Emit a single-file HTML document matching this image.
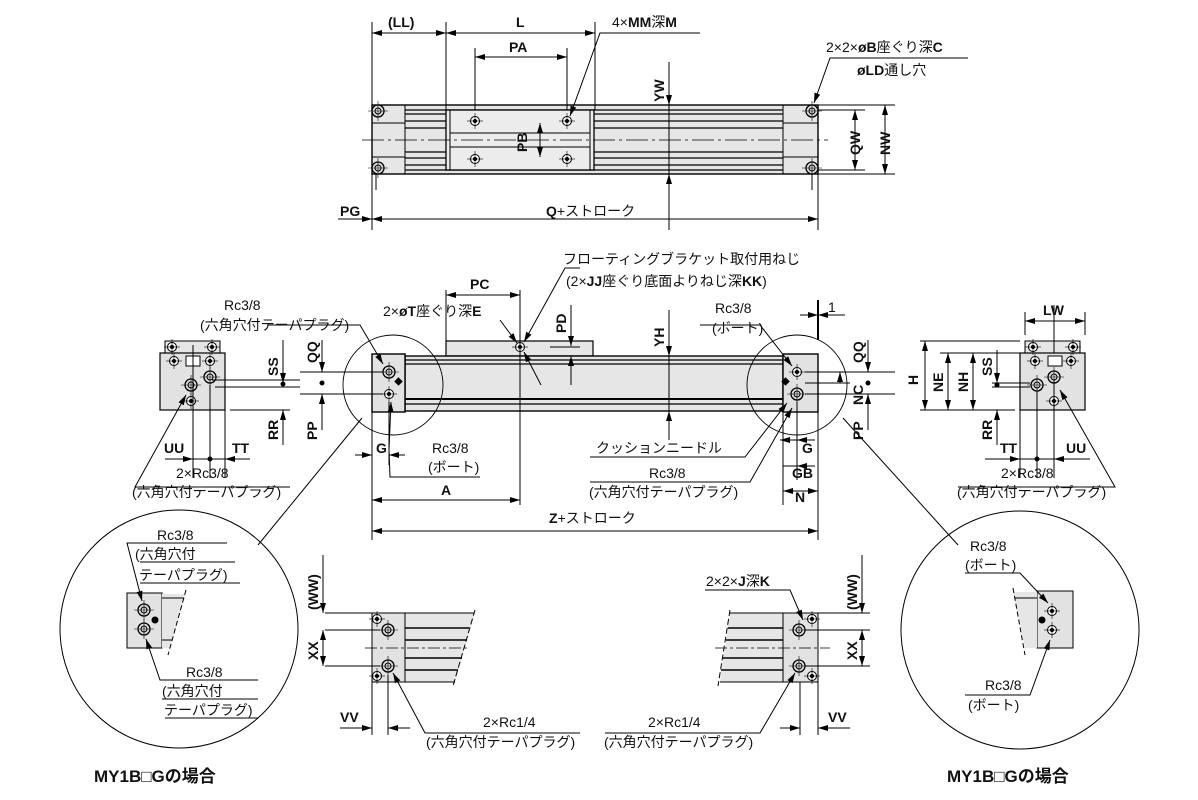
<!DOCTYPE html>
<html><head><meta charset="utf-8"><style>
html,body{margin:0;padding:0;background:#fff}
svg{display:block}
text{font-family:"Liberation Sans","Noto Sans CJK JP",sans-serif;font-size:14px;fill:#111}
.b{font-weight:bold}
.big{font-size:17px;font-weight:bold}
</style></head><body>
<svg width="1198" height="800" viewBox="0 0 1198 800" xmlns="http://www.w3.org/2000/svg">
<defs>
<marker id="a" viewBox="0 0 10 6" refX="10" refY="3" markerWidth="12" markerHeight="6" orient="auto-start-reverse" markerUnits="userSpaceOnUse"><path d="M0,0L10,3L0,6z" fill="#000"/></marker>
<g id="hole"><circle r="4.5" fill="#fff" stroke="#000" stroke-width="1"/><line x1="-8" x2="8" stroke="#000" stroke-width=".6"/><line y1="-8" y2="8" stroke="#000" stroke-width=".6"/><circle r="1.5" fill="#000"/></g>
<g id="port"><circle r="6" fill="#ddd" stroke="#000" stroke-width="1.3"/><circle r="3" fill="none" stroke="#000" stroke-width="1"/><line x1="-10" x2="10" stroke="#000" stroke-width=".6"/><line y1="-10" y2="10" stroke="#000" stroke-width=".6"/></g>
</defs>
<g stroke="#000" stroke-width="1" fill="none">
<rect x="372" y="105" width="446" height="69" fill="#e6e6e6" stroke-width="1.4"/>
<line x1="405" y1="105" x2="405" y2="174"/><line x1="783" y1="105" x2="783" y2="174"/>
<g stroke-width="1.2"><line x1="405" y1="110" x2="783" y2="110"/><line x1="405" y1="114" x2="783" y2="114"/><line x1="405" y1="121" x2="783" y2="121"/><line x1="405" y1="128" x2="783" y2="128"/><line x1="405" y1="152" x2="783" y2="152"/><line x1="405" y1="158" x2="783" y2="158"/><line x1="405" y1="165" x2="783" y2="165"/><line x1="405" y1="170" x2="783" y2="170"/></g>
<line x1="372" y1="123" x2="405" y2="123"/><line x1="372" y1="157" x2="405" y2="157"/><line x1="783" y1="123" x2="818" y2="123"/><line x1="783" y1="157" x2="818" y2="157"/>
<rect x="446" y="110" width="148" height="60" fill="#ececec" stroke-width="1.3"/>
<line x1="450" y1="110" x2="450" y2="170"/><line x1="590" y1="110" x2="590" y2="170"/>
<line x1="450" y1="133" x2="590" y2="133"/><line x1="450" y1="147" x2="590" y2="147"/>
<line x1="362" y1="140" x2="828" y2="140" stroke-dasharray="22,4,3,4" stroke-width=".8"/>
<use href="#hole" x="475" y="121"/><use href="#hole" x="567" y="121"/><use href="#hole" x="475" y="159"/><use href="#hole" x="567" y="159"/>
<use href="#port" x="378" y="111"/><use href="#port" x="378" y="168"/><use href="#port" x="812" y="111"/><use href="#port" x="812" y="168"/>
<line x1="372" y1="22" x2="372" y2="105"/><line x1="446" y1="22" x2="446" y2="110"/><line x1="595" y1="22" x2="595" y2="110"/>
<line x1="475" y1="48" x2="475" y2="110"/><line x1="567" y1="48" x2="567" y2="110"/>
<line x1="372" y1="33" x2="446" y2="33" marker-start="url(#a)" marker-end="url(#a)"/>
<line x1="446" y1="33" x2="595" y2="33" marker-start="url(#a)" marker-end="url(#a)"/>
<line x1="475" y1="57" x2="567" y2="57" marker-start="url(#a)" marker-end="url(#a)"/>
<polyline points="700,33 600,33 570,116" marker-end="url(#a)"/>
<line x1="540" y1="123" x2="540" y2="157" marker-start="url(#a)" marker-end="url(#a)"/>
<line x1="669" y1="62" x2="669" y2="105" marker-end="url(#a)"/><line x1="669" y1="105" x2="669" y2="215"/><line x1="669" y1="230" x2="669" y2="174" marker-end="url(#a)"/>
<line x1="372" y1="174" x2="372" y2="230"/><line x1="376" y1="174" x2="376" y2="190"/><line x1="818" y1="174" x2="818" y2="230"/><line x1="812" y1="174" x2="812" y2="190"/>
<line x1="372" y1="219" x2="818" y2="219" marker-start="url(#a)" marker-end="url(#a)"/>
<line x1="338" y1="219" x2="372" y2="219" marker-end="url(#a)"/>
<line x1="818" y1="110" x2="865" y2="110"/><line x1="818" y1="170" x2="865" y2="170"/><line x1="818" y1="105" x2="895" y2="105"/><line x1="818" y1="174" x2="895" y2="174"/>
<line x1="855" y1="110" x2="855" y2="170" marker-start="url(#a)" marker-end="url(#a)"/>
<line x1="885" y1="105" x2="885" y2="174" marker-start="url(#a)" marker-end="url(#a)"/>
<polyline points="968,58 830,58 814,103" marker-end="url(#a)"/>

<rect x="446" y="341" width="147" height="15" fill="#e6e6e6" stroke-width="1.2"/>
<rect x="405" y="356" width="378" height="55" fill="#e6e6e6" stroke-width="1.4"/>
<g stroke-width="1.2"><line x1="405" y1="360" x2="783" y2="360"/><line x1="405" y1="364" x2="783" y2="364"/><line x1="405" y1="399" x2="783" y2="399" stroke-width="2"/><line x1="405" y1="404" x2="783" y2="404"/></g>
<rect x="372" y="354" width="33" height="58" fill="#e2e2e2" stroke-width="1.4"/>
<rect x="783" y="354" width="35" height="58" fill="#e2e2e2" stroke-width="1.4"/>
<circle cx="393" cy="385" r="50" stroke-width=".9"/><circle cx="797" cy="385" r="50" stroke-width=".9"/>
<use href="#port" x="389" y="372"/><use href="#hole" x="389" y="394"/><use href="#hole" x="797" y="372"/><use href="#port" x="797" y="394"/>
<rect x="396" y="379" width="5" height="5" fill="#000" transform="rotate(45 398.5 381.5)"/>
<rect x="783" y="379" width="5" height="5" fill="#000" transform="rotate(45 785.5 381.5)"/>
<use href="#hole" x="520" y="347"/>
<line x1="520" y1="290" x2="520" y2="505"/><line x1="446" y1="290" x2="446" y2="341"/>
<line x1="446" y1="295" x2="520" y2="295" marker-start="url(#a)" marker-end="url(#a)"/>
<polyline points="580,268 565,268 524,342" marker-end="url(#a)"/>
<line x1="500" y1="320" x2="517" y2="343" marker-end="url(#a)"/>
<line x1="541" y1="385" x2="524" y2="352" marker-end="url(#a)"/>
<line x1="571" y1="305" x2="571" y2="346" marker-end="url(#a)"/><line x1="571" y1="385" x2="571" y2="356" marker-end="url(#a)"/><line x1="550" y1="347" x2="580" y2="347"/>
<line x1="669" y1="310" x2="669" y2="356" marker-end="url(#a)"/><line x1="669" y1="356" x2="669" y2="430"/><line x1="669" y1="440" x2="669" y2="411" marker-end="url(#a)"/>
<polyline points="268,325 360,325 383,364" marker-end="url(#a)"/>
<line x1="389" y1="450" x2="391" y2="402" marker-end="url(#a)"/><polyline points="389,450 390,477 480,477"/>
<line x1="372" y1="412" x2="372" y2="540"/><line x1="389" y1="402" x2="389" y2="465"/>
<line x1="355" y1="455" x2="372" y2="455" marker-end="url(#a)"/><line x1="405" y1="455" x2="389" y2="455" marker-end="url(#a)"/>
<line x1="372" y1="500" x2="520" y2="500" marker-start="url(#a)" marker-end="url(#a)"/>
<line x1="818" y1="412" x2="818" y2="540"/>
<line x1="372" y1="531" x2="818" y2="531" marker-start="url(#a)" marker-end="url(#a)"/>
<line x1="300" y1="372" x2="383" y2="372"/><line x1="300" y1="394" x2="383" y2="394"/>
<line x1="322" y1="340" x2="322" y2="372" marker-end="url(#a)"/><line x1="322" y1="430" x2="322" y2="394" marker-end="url(#a)"/>
<circle cx="322" cy="383" r="2" fill="#000"/>
<polyline points="700,325 760,325 792,366" marker-end="url(#a)"/>
<line x1="818" y1="300" x2="818" y2="340" stroke-width="2"/>
<line x1="800" y1="315" x2="818" y2="315" marker-end="url(#a)"/><line x1="845" y1="315" x2="818" y2="315" marker-end="url(#a)"/>
<line x1="783" y1="412" x2="783" y2="505"/><line x1="797" y1="402" x2="797" y2="480"/>
<line x1="780" y1="440" x2="797" y2="440" marker-start="url(#a)"/><line x1="815" y1="440" x2="797" y2="440" marker-end="url(#a)"/>
<line x1="783" y1="466" x2="797" y2="466"/><line x1="815" y1="466" x2="797" y2="466" marker-end="url(#a)"/>
<line x1="783" y1="491" x2="818" y2="491" marker-start="url(#a)" marker-end="url(#a)"/>
<polyline points="590,457 745,457 787,403" marker-end="url(#a)"/>
<polyline points="590,482 750,482 792,408" marker-end="url(#a)"/>
<line x1="805" y1="372" x2="895" y2="372"/><line x1="805" y1="394" x2="895" y2="394"/><line x1="805" y1="383" x2="850" y2="383"/>
<line x1="868" y1="340" x2="868" y2="372" marker-end="url(#a)"/><line x1="868" y1="430" x2="868" y2="394" marker-end="url(#a)"/><circle cx="868" cy="383" r="2" fill="#000"/>
<line x1="840" y1="372" x2="840" y2="383" marker-start="url(#a)"/>
<rect x="165" y="341" width="55" height="12" fill="#e6e6e6"/>
<rect x="160" y="353" width="65" height="57" fill="#e2e2e2" stroke-width="1.2"/>
<use href="#hole" x="172" y="347"/><use href="#hole" x="212" y="347"/><use href="#hole" x="174" y="361"/><use href="#hole" x="210" y="361"/>
<rect x="186" y="356" width="14" height="10" fill="#fff"/>
<use href="#port" x="210" y="377"/><use href="#port" x="191" y="385"/><use href="#hole" x="191" y="401"/>
<line x1="193" y1="345" x2="193" y2="478"/><line x1="210" y1="385" x2="210" y2="478"/><line x1="225" y1="410" x2="225" y2="478"/>
<line x1="212" y1="380" x2="300" y2="380"/><line x1="215" y1="387" x2="300" y2="387"/><line x1="230" y1="410" x2="290" y2="410"/>
<line x1="283" y1="340" x2="283" y2="383" marker-end="url(#a)"/><line x1="283" y1="445" x2="283" y2="410" marker-end="url(#a)"/><circle cx="283" cy="384" r="2" fill="#000"/>
<line x1="165" y1="459" x2="193" y2="459" marker-end="url(#a)"/><line x1="193" y1="459" x2="225" y2="459"/><line x1="250" y1="459" x2="225" y2="459" marker-end="url(#a)"/><circle cx="210" cy="459" r="2" fill="#000"/>
<polyline points="290,487 135,487 186,395" marker-end="url(#a)"/>
<rect x="1025" y="341" width="55" height="12" fill="#e6e6e6"/>
<rect x="1020" y="353" width="65" height="57" fill="#e2e2e2" stroke-width="1.2"/>
<use href="#hole" x="1033" y="347"/><use href="#hole" x="1073" y="347"/><use href="#hole" x="1035" y="361"/><use href="#hole" x="1071" y="361"/>
<rect x="1048" y="356" width="14" height="10" fill="#fff"/>
<use href="#port" x="1054" y="377"/><use href="#port" x="1037" y="385"/><use href="#hole" x="1054" y="401"/>
<line x1="1037" y1="392" x2="1037" y2="478"/><line x1="1054" y1="380" x2="1054" y2="478"/><line x1="1020" y1="410" x2="1020" y2="478"/><line x1="1054" y1="305" x2="1054" y2="353"/>
<line x1="1025" y1="312" x2="1025" y2="335"/><line x1="1085" y1="312" x2="1085" y2="335"/>
<line x1="1025" y1="321" x2="1085" y2="321" marker-start="url(#a)" marker-end="url(#a)"/>
<line x1="920" y1="341" x2="1020" y2="341"/><line x1="940" y1="353" x2="1020" y2="353"/><line x1="920" y1="410" x2="1015" y2="410"/>
<line x1="925" y1="341" x2="925" y2="410" marker-start="url(#a)" marker-end="url(#a)"/>
<line x1="948" y1="353" x2="948" y2="410" marker-start="url(#a)" marker-end="url(#a)"/>
<line x1="973" y1="353" x2="973" y2="410" marker-start="url(#a)" marker-end="url(#a)"/>
<line x1="992" y1="383" x2="1030" y2="383"/><line x1="992" y1="387" x2="1030" y2="387"/>
<line x1="997" y1="350" x2="997" y2="383" marker-end="url(#a)"/><line x1="997" y1="445" x2="997" y2="410" marker-end="url(#a)"/><circle cx="997" cy="385" r="2" fill="#000"/>
<line x1="985" y1="459" x2="1020" y2="459" marker-end="url(#a)"/><line x1="1020" y1="459" x2="1054" y2="459"/><line x1="1090" y1="459" x2="1054" y2="459" marker-end="url(#a)"/><circle cx="1037" cy="459" r="2" fill="#000"/>
<polyline points="958,487 1115,487 1060,390" marker-end="url(#a)"/>
<line x1="362" y1="418" x2="258" y2="545"/><line x1="843" y1="418" x2="958" y2="545"/>
<circle cx="179" cy="629" r="119" stroke-width="1"/>
<rect x="127" y="593" width="35" height="55" fill="#e2e2e2"/>
<polygon points="162,594 186,594 170,648 162,648" fill="#e6e6e6" stroke="none"/>
<line x1="162" y1="598" x2="184" y2="598"/><line x1="162" y1="640" x2="172" y2="640"/>
<line x1="186" y1="590" x2="168" y2="655" stroke-dasharray="5,3"/>
<use href="#port" x="144" y="610"/><use href="#port" x="144" y="629"/>
<circle cx="155" cy="620" r="3" fill="#000"/>
<polyline points="227,543 127,543 142,601" marker-end="url(#a)"/>
<line x1="140" y1="562" x2="235" y2="562"/><line x1="140" y1="583" x2="240" y2="583"/>
<polyline points="258,680 160,680 146,639" marker-end="url(#a)"/>
<line x1="162" y1="699" x2="258" y2="699"/><line x1="165" y1="718" x2="258" y2="718"/>
<circle cx="1020" cy="630" r="119" stroke-width="1"/>
<rect x="1037" y="591" width="36" height="57" fill="#e2e2e2"/>
<polygon points="1013,592 1037,592 1037,648 1025,648" fill="#e6e6e6" stroke="none"/>
<line x1="1015" y1="598" x2="1037" y2="598"/><line x1="1013" y1="588" x2="1025" y2="655" stroke-dasharray="5,3"/>
<use href="#hole" x="1052" y="611"/><use href="#hole" x="1052" y="630"/><circle cx="1042" cy="620" r="3" fill="#000"/>
<polyline points="965,573 1020,573 1048,603" marker-end="url(#a)"/>
<polyline points="965,695 1030,695 1050,640" marker-end="url(#a)"/>
<polygon points="405,613 475,613 455,682 405,682" fill="#e6e6e6" stroke="none"/>
<line x1="475" y1="610" x2="453" y2="686" stroke-dasharray="6,3"/>
<line x1="405" y1="613" x2="474" y2="613"/><g stroke-width="1.6"><line x1="405" y1="628" x2="469" y2="628"/><line x1="405" y1="640" x2="467" y2="640"/><line x1="405" y1="658" x2="462" y2="658"/><line x1="405" y1="670" x2="458" y2="670"/></g>
<line x1="405" y1="682" x2="455" y2="682"/>
<rect x="372" y="613" width="33" height="69" fill="#e2e2e2"/>
<line x1="365" y1="648" x2="470" y2="648" stroke-dasharray="12,3,3,3" stroke-width=".8"/>
<use href="#hole" x="377" y="619"/><use href="#hole" x="377" y="676"/><use href="#port" x="388" y="630"/><use href="#port" x="388" y="666"/>
<line x1="325" y1="613" x2="372" y2="613"/><line x1="325" y1="630" x2="380" y2="630"/><line x1="325" y1="666" x2="380" y2="666"/>
<line x1="323" y1="555" x2="323" y2="613" marker-end="url(#a)"/>
<line x1="323" y1="630" x2="323" y2="666" marker-start="url(#a)" marker-end="url(#a)"/>
<line x1="372" y1="682" x2="372" y2="735"/><line x1="388" y1="675" x2="388" y2="735"/>
<line x1="340" y1="728" x2="372" y2="728" marker-end="url(#a)"/><line x1="410" y1="728" x2="388" y2="728" marker-end="url(#a)"/>
<polyline points="580,733 425,733 393,673" marker-end="url(#a)"/>
<polygon points="730,613 783,613 783,682 720,682" fill="#e6e6e6" stroke="none"/>
<line x1="730" y1="610" x2="718" y2="686" stroke-dasharray="6,3"/>
<line x1="730" y1="613" x2="783" y2="613"/><g stroke-width="1.6"><line x1="728" y1="628" x2="783" y2="628"/><line x1="726" y1="640" x2="783" y2="640"/><line x1="723" y1="658" x2="783" y2="658"/><line x1="721" y1="670" x2="783" y2="670"/></g>
<line x1="720" y1="682" x2="783" y2="682"/>
<rect x="783" y="613" width="35" height="69" fill="#e2e2e2"/>
<line x1="715" y1="648" x2="830" y2="648" stroke-dasharray="12,3,3,3" stroke-width=".8"/>
<use href="#hole" x="812" y="619"/><use href="#hole" x="812" y="676"/><use href="#port" x="799" y="630"/><use href="#port" x="799" y="666"/>
<line x1="818" y1="613" x2="870" y2="613"/><line x1="805" y1="630" x2="870" y2="630"/><line x1="805" y1="666" x2="870" y2="666"/>
<line x1="862" y1="555" x2="862" y2="613" marker-end="url(#a)"/>
<line x1="862" y1="630" x2="862" y2="666" marker-start="url(#a)" marker-end="url(#a)"/>
<line x1="800" y1="682" x2="800" y2="735"/><line x1="818" y1="682" x2="818" y2="735"/>
<line x1="780" y1="728" x2="800" y2="728" marker-end="url(#a)"/><line x1="850" y1="728" x2="818" y2="728" marker-end="url(#a)"/>
<polyline points="605,733 760,733 795,673" marker-end="url(#a)"/>
<polyline points="705,590 790,590 803,620" marker-end="url(#a)"/>
</g>

<text x="388" y="27" class="b">(LL)</text>
<text x="516" y="27" class="b">L</text>
<text x="509" y="52" class="b">PA</text>
<text x="612" y="27">4×<tspan class="b">MM</tspan>深<tspan class="b">M</tspan></text>
<text class="b" transform="translate(664,102) rotate(-90)">YW</text>
<text class="b" transform="translate(527,152) rotate(-90)">PB</text>
<text x="340" y="216" class="b">PG</text>
<text x="546" y="216"><tspan class="b">Q</tspan>+ストローク</text>
<text class="b" transform="translate(860,155) rotate(-90)">QW</text>
<text class="b" transform="translate(890,155) rotate(-90)">NW</text>
<text x="826" y="52">2×2×<tspan class="b">øB</tspan>座ぐり深<tspan class="b">C</tspan></text>
<text x="857" y="75"><tspan class="b">øLD</tspan>通し穴</text>
<text x="563" y="264">フローティングブラケット取付用ねじ</text>
<text x="566" y="286">(2×<tspan class="b">JJ</tspan>座ぐり底面よりねじ深<tspan class="b">KK</tspan>)</text>
<text x="470" y="289" class="b">PC</text>
<text x="383" y="316">2×<tspan class="b">øT</tspan>座ぐり深<tspan class="b">E</tspan></text>
<text class="b" transform="translate(566,333) rotate(-90)">PD</text>
<text class="b" transform="translate(664,347) rotate(-90)">YH</text>
<text x="224" y="310">Rc3/8</text>
<text x="200" y="330">(六角穴付テーパプラグ)</text>
<text x="715" y="313">Rc3/8</text>
<text x="712" y="333">(ボート)</text>
<text x="828" y="312">1</text>
<text class="b" transform="translate(317,363) rotate(-90)">QQ</text>
<text class="b" transform="translate(317,440) rotate(-90)">PP</text>
<text class="b" transform="translate(278,376) rotate(-90)">SS</text>
<text class="b" transform="translate(278,440) rotate(-90)">RR</text>
<text x="164" y="453" class="b">UU</text>
<text x="232" y="453" class="b">TT</text>
<text x="176" y="478">2×Rc3/8</text>
<text x="132" y="497">(六角穴付テーパプラグ)</text>
<text x="376" y="453" class="b">G</text>
<text x="432" y="453">Rc3/8</text>
<text x="428" y="472">(ボート)</text>
<text x="441" y="495" class="b">A</text>
<text x="549" y="523"><tspan class="b">Z</tspan>+ストローク</text>
<text x="596" y="453">クッションニードル</text>
<text x="649" y="478">Rc3/8</text>
<text x="589" y="497">(六角穴付テーパプラグ)</text>
<text x="802" y="453" class="b">G</text>
<text x="792" y="478" class="b">GB</text>
<text x="795" y="502" class="b">N</text>
<text class="b" transform="translate(863,363) rotate(-90)">QQ</text>
<text class="b" transform="translate(863,405) rotate(-90)">NC</text>
<text class="b" transform="translate(863,440) rotate(-90)">PP</text>
<text class="b" transform="translate(918,385) rotate(-90)">H</text>
<text class="b" transform="translate(943,392) rotate(-90)">NE</text>
<text class="b" transform="translate(968,392) rotate(-90)">NH</text>
<text class="b" transform="translate(992,376) rotate(-90)">SS</text>
<text class="b" transform="translate(992,440) rotate(-90)">RR</text>
<text x="1043" y="315" class="b">LW</text>
<text x="1000" y="453" class="b">TT</text>
<text x="1066" y="453" class="b">UU</text>
<text x="1001" y="478">2×Rc3/8</text>
<text x="957" y="497">(六角穴付テーパプラグ)</text>
<text x="157" y="540">Rc3/8</text>
<text x="135" y="559">(六角穴付</text>
<text x="139" y="580">テーパプラグ)</text>
<text x="186" y="677">Rc3/8</text>
<text x="162" y="696">(六角穴付</text>
<text x="164" y="715">テーパプラグ)</text>
<text x="970" y="551">Rc3/8</text>
<text x="965" y="570">(ボート)</text>
<text x="985" y="690">Rc3/8</text>
<text x="968" y="710">(ボート)</text>
<text class="b" transform="translate(318,610) rotate(-90)">(WW)</text>
<text class="b" transform="translate(318,660) rotate(-90)">XX</text>
<text x="340" y="722" class="b">VV</text>
<text x="483" y="727">2×Rc1/4</text>
<text x="426" y="747">(六角穴付テーパプラグ)</text>
<text class="b" transform="translate(857,610) rotate(-90)">(WW)</text>
<text class="b" transform="translate(857,660) rotate(-90)">XX</text>
<text x="828" y="722" class="b">VV</text>
<text x="648" y="727">2×Rc1/4</text>
<text x="604" y="747">(六角穴付テーパプラグ)</text>
<text x="706" y="586">2×2×<tspan class="b">J</tspan>深<tspan class="b">K</tspan></text>
<text x="94" y="782" class="big">MY1B□Gの場合</text>
<text x="947" y="782" class="big">MY1B□Gの場合</text>
</svg>
</body></html>
